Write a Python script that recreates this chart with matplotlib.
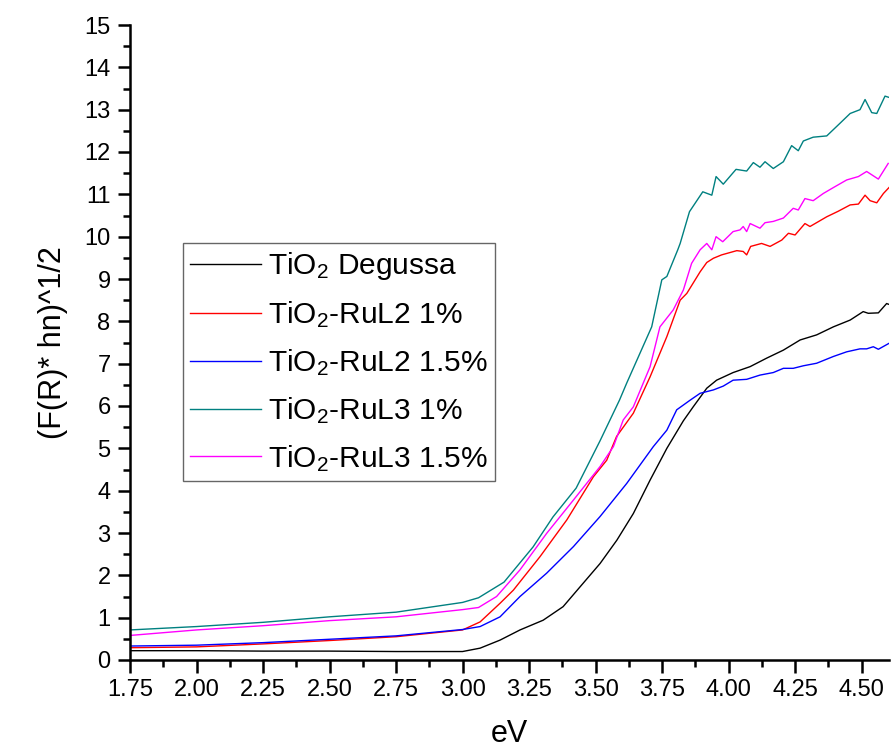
import matplotlib
matplotlib.use("Agg")
import matplotlib.pyplot as plt
from matplotlib.ticker import MultipleLocator, FixedLocator

plt.rcParams['font.family'] = ['Liberation Sans', 'DejaVu Sans']
plt.rcParams['mathtext.fontset'] = 'custom'
plt.rcParams['mathtext.rm'] = 'Liberation Sans'
plt.rcParams['mathtext.default'] = 'regular'

# ---- data ----
labels = [r'TiO$_2$ Degussa', r'TiO$_2$-RuL2 1%', r'TiO$_2$-RuL2 1.5%',
          r'TiO$_2$-RuL3 1%', r'TiO$_2$-RuL3 1.5%']
colors = ['#000000', '#FF0000', '#0000FF', '#008080', '#FF00FF']

x_degussa = [1.75, 2.0, 2.25, 2.5, 2.75, 3.0, 3.066, 3.141, 3.216, 3.303, 3.378, 3.442, 3.517,
             3.58, 3.642, 3.705, 3.768, 3.83, 3.867, 3.918, 3.955, 4.017, 4.081, 4.143,
             4.206, 4.269, 4.331, 4.394, 4.457, 4.506, 4.525, 4.563, 4.594, 4.603]
y_degussa = [0.22, 0.22, 0.21, 0.21, 0.20, 0.20, 0.28, 0.47, 0.71, 0.94, 1.26, 1.73, 2.28,
             2.83, 3.46, 4.25, 5.0, 5.65, 5.98, 6.42, 6.61, 6.79, 6.93, 7.13,
             7.32, 7.56, 7.68, 7.87, 8.03, 8.23, 8.19, 8.2, 8.42, 8.40]

x_rul2_1 = [1.75, 2.0, 2.25, 2.5, 2.75, 3.0, 3.066, 3.141, 3.191, 3.291, 3.392, 3.492, 3.542,
            3.579, 3.642, 3.705, 3.768, 3.818, 3.843, 3.893, 3.918, 3.943, 3.974, 4.031,
            4.055, 4.068, 4.083, 4.124, 4.156, 4.2, 4.225, 4.25, 4.287, 4.306, 4.369,
            4.412, 4.457, 4.488, 4.513, 4.532, 4.557, 4.582, 4.603]
y_rul2_1 = [0.29, 0.31, 0.38, 0.46, 0.55, 0.71, 0.90, 1.34, 1.65, 2.44, 3.31, 4.33, 4.72,
            5.28, 5.83, 6.69, 7.64, 8.5, 8.66, 9.17, 9.39, 9.49, 9.57, 9.67,
            9.65, 9.57, 9.77, 9.84, 9.77, 9.92, 10.08, 10.04, 10.31, 10.24, 10.47,
            10.6, 10.75, 10.77, 10.98, 10.85, 10.8, 11.02, 11.16]

x_rul2_15 = [1.75, 2.0, 2.25, 2.5, 2.75, 3.0, 3.066, 3.141, 3.216, 3.316, 3.417, 3.517, 3.617,
             3.717, 3.768, 3.805, 3.856, 3.893, 3.943, 3.98, 4.017, 4.068, 4.118, 4.168,
             4.206, 4.243, 4.281, 4.331, 4.394, 4.444, 4.494, 4.519, 4.544, 4.563, 4.603]
y_rul2_15 = [0.33, 0.35, 0.41, 0.49, 0.57, 0.72, 0.79, 1.02, 1.5, 2.05, 2.68, 3.39, 4.17,
             5.04, 5.43, 5.91, 6.14, 6.3, 6.38, 6.47, 6.61, 6.63, 6.73, 6.79,
             6.89, 6.89, 6.95, 7.01, 7.17, 7.28, 7.35, 7.35, 7.4, 7.34, 7.48]

x_rul3_1 = [1.75, 2.0, 2.25, 2.5, 2.75, 3.0, 3.06, 3.156, 3.265, 3.34, 3.427, 3.517, 3.59,
            3.617, 3.711, 3.749, 3.768, 3.809, 3.818, 3.853, 3.903, 3.937, 3.953, 3.98,
            4.028, 4.068, 4.093, 4.118, 4.137, 4.168, 4.206, 4.237, 4.262, 4.281, 4.318,
            4.369, 4.419, 4.457, 4.494, 4.513, 4.538, 4.557, 4.588, 4.603]
y_rul3_1 = [0.71, 0.79, 0.89, 1.02, 1.13, 1.36, 1.47, 1.84, 2.67, 3.38, 4.06, 5.18, 6.14,
            6.54, 7.87, 8.98, 9.06, 9.69, 9.84, 10.59, 11.06, 10.98, 11.42, 11.24,
            11.59, 11.55, 11.75, 11.64, 11.77, 11.61, 11.77, 12.15, 12.03, 12.26, 12.35,
            12.38, 12.68, 12.91, 13.0, 13.24, 12.93, 12.91, 13.32, 13.29]

x_rul3_15 = [1.75, 2.0, 2.25, 2.5, 2.75, 3.0, 3.06, 3.128, 3.216, 3.316, 3.417, 3.517, 3.567,
             3.604, 3.642, 3.705, 3.742, 3.792, 3.83, 3.861, 3.893, 3.918, 3.937, 3.953,
             3.978, 4.017, 4.043, 4.055, 4.068, 4.081, 4.118, 4.137, 4.168, 4.206, 4.243,
             4.262, 4.287, 4.318, 4.356, 4.394, 4.444, 4.488, 4.519, 4.563, 4.6]
y_rul3_15 = [0.58, 0.71, 0.81, 0.93, 1.02, 1.19, 1.24, 1.5, 2.13, 2.99, 3.78, 4.57, 5.04,
             5.67, 5.98, 6.93, 7.87, 8.27, 8.74, 9.37, 9.69, 9.84, 9.69, 10.0,
             9.88, 10.12, 10.16, 10.24, 10.12, 10.31, 10.2, 10.33, 10.36, 10.44, 10.67,
             10.63, 10.9, 10.85, 11.02, 11.16, 11.34, 11.42, 11.54, 11.36, 11.73]

series_x = [x_degussa, x_rul2_1, x_rul2_15, x_rul3_1, x_rul3_15]
series_y = [y_degussa, y_rul2_1, y_rul2_15, y_rul3_1, y_rul3_15]

x_ticks = [1.75, 2.00, 2.25, 2.50, 2.75, 3.00, 3.25, 3.50, 3.75, 4.00, 4.25, 4.50]
y_ticks = list(range(0, 16))

# ---- figure ----
fig = plt.figure(figsize=(8.91, 7.53), dpi=100)
ax = fig.add_axes([130 / 891, 93 / 753, 759 / 891, 635 / 753])

for xs, ys, c, lab in zip(series_x, series_y, colors, labels):
    ax.plot(xs, ys, color=c, lw=1.0, label=lab)

ax.set_xlim(1.75, 4.603)
ax.set_ylim(0, 15)
ax.xaxis.set_major_locator(FixedLocator(x_ticks))
ax.xaxis.set_minor_locator(MultipleLocator(0.125))
ax.yaxis.set_major_locator(FixedLocator(y_ticks))
ax.yaxis.set_minor_locator(MultipleLocator(0.5))
ax.set_xticklabels([f'{v:.2f}' for v in x_ticks])
ax.set_yticklabels([str(v) for v in y_ticks])

for s in ['top', 'right']:
    ax.spines[s].set_visible(False)
for s in ['left', 'bottom']:
    ax.spines[s].set_linewidth(1.8)
ax.tick_params(which='major', direction='out', length=9, width=1.8, labelsize=17, pad=5)
ax.tick_params(which='minor', direction='out', length=5, width=1.8)

ax.set_xlabel('eV', fontsize=22, labelpad=13)
ax.set_ylabel('(F(R)* hn)^1/2', fontsize=22, labelpad=12)

leg = ax.legend(loc='upper left', bbox_to_anchor=((183 - 130) / 759, (660 - 243) / 635),
                fontsize=21.5, frameon=True, fancybox=False, edgecolor='#404040',
                handlelength=2.35, handletextpad=0.25, labelspacing=0.57,
                borderpad=0.25, borderaxespad=0)
leg.get_frame().set_linewidth(1.0)

fig.savefig('out.png', dpi=100)
